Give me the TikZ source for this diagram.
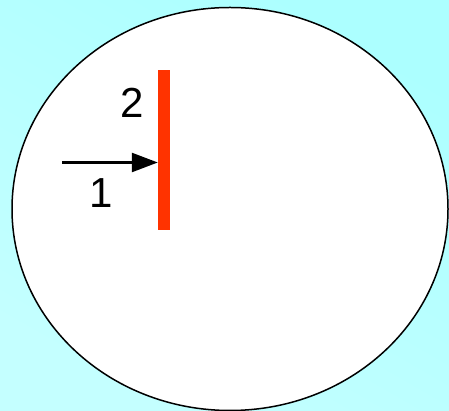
\documentclass[tikz,border=0pt]{standalone}
\usepackage{fontspec}
\setmainfont{Liberation Sans}
\usetikzlibrary{arrows.meta}
\definecolor{bgtop}{RGB}{172,255,255}
\definecolor{bgbot}{RGB}{196,255,255}
\definecolor{barred}{RGB}{255,51,0}
\tikzset{
  lbl/.style={font=\fontsize{42}{50}\selectfont, inner sep=0pt},
  wall/.style={fill=barred, draw=none, minimum width=12pt, minimum height=160pt, inner sep=0pt},
  ray/.style={line width=2.5pt, -{Triangle[length=26pt,width=19pt]}}
}
\begin{document}
\begin{tikzpicture}[x=1pt,y=1pt]
  \useasboundingbox (0,0) rectangle (449,411);
  \shade[bottom color=bgbot, top color=bgtop, shading angle=-30] (0,0) rectangle (449,411);
  \draw[line width=1.5pt, fill=white] (230,202) ellipse [x radius=218, y radius=201.5];
  \node[wall] (bar) at (164,261) {};
  \coordinate (start) at (62,248.5);
  \draw[ray] (start) -- (bar.west |- start);
  \node[lbl] (two) at (132,308) {2};
  \node[lbl] (one) at (101,218) {1};
\end{tikzpicture}
\end{document}
